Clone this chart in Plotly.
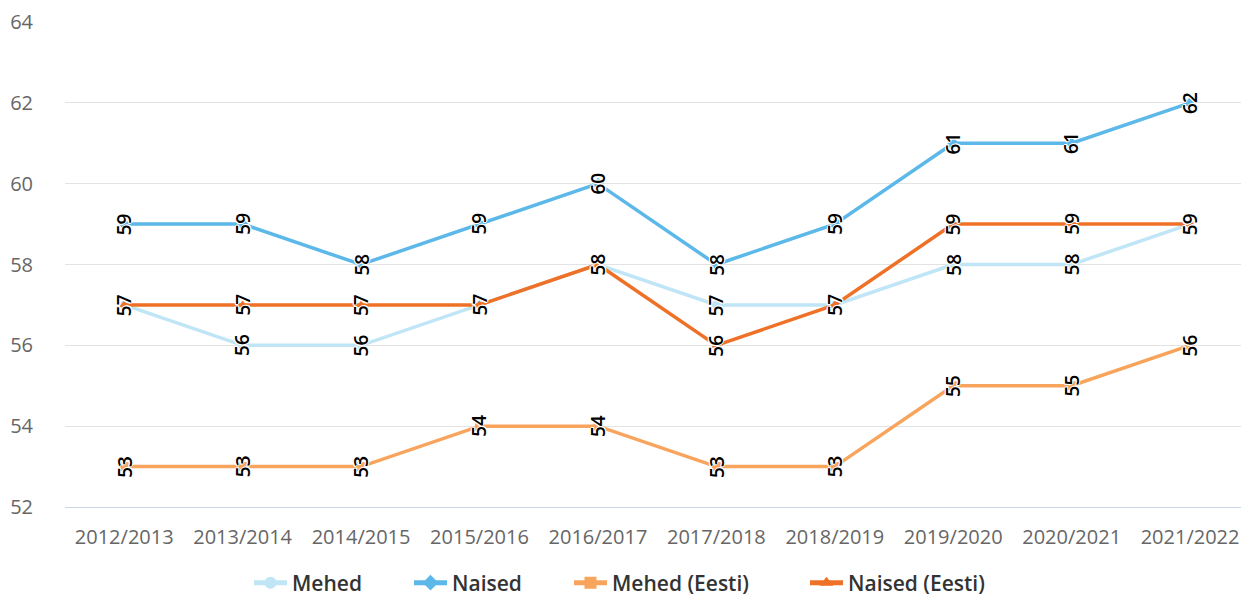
import plotly.graph_objects as go

categories = ["2012/2013", "2013/2014", "2014/2015", "2015/2016", "2016/2017",
              "2017/2018", "2018/2019", "2019/2020", "2020/2021", "2021/2022"]
mehed = [57, 56, 56, 57, 58, 57, 57, 58, 58, 59]
naised = [59, 59, 58, 59, 60, 58, 59, 61, 61, 62]
mehed_eesti = [53, 53, 53, 54, 54, 53, 53, 55, 55, 56]
naised_eesti = [57, 57, 57, 57, 58, 56, 57, 59, 59, 59]

series = [
    ("Mehed", mehed, "#bfe5f6", "circle"),
    ("Naised", naised, "#5cb8e8", "diamond"),
    ("Mehed (Eesti)", mehed_eesti, "#f8a45c", "square"),
    ("Naised (Eesti)", naised_eesti, "#ee7127", "triangle-up"),
]

L, R, T, B = 65, 0, 22, 89
W, H = 1241, 596
plot_w = W - L - R
legend_px = [249, 409, 569, 805]
legend_names = ["legend", "legend2", "legend3", "legend4"]

fig = go.Figure()
annotations = []
for (name, vals, color, sym), lg in zip(series, legend_names):
    fig.add_trace(go.Scatter(
        x=categories, y=vals, name=name, mode="lines+markers",
        line=dict(color=color, width=3.5),
        marker=dict(color=color, symbol=sym, size=9),
        legend=lg,
    ))
    for c, v in zip(categories, vals):
        annotations.append(dict(
            x=c, y=v, xref="x", yref="y", text=str(v), showarrow=False,
            textangle=-90, xanchor="center", yanchor="middle",
            font=dict(family="Open Sans", size=19, color="#000000", weight=600,
                      shadow="1px 0 0 #fff, -1px 0 0 #fff, 0 1px 0 #fff, 0 -1px 0 #fff, 1px 1px 0 #fff, -1px -1px 0 #fff"),
        ))

legend_style = dict(orientation="h", yanchor="middle", xanchor="left",
                    y=-(583 - (H - B)) / (H - T - B),
                    font=dict(family="Open Sans", size=21, color="#333333", weight=600),
                    bgcolor="rgba(0,0,0,0)", borderwidth=0,
                    itemsizing="constant", itemwidth=33)
legends = {}
for lg, px in zip(legend_names, legend_px):
    legends[lg] = dict(legend_style, x=(px - L) / plot_w)

fig.update_layout(
    width=W, height=H,
    margin=dict(l=L, r=R, t=T, b=B, autoexpand=False),
    paper_bgcolor="white", plot_bgcolor="white",
    font=dict(family="Open Sans", color="#666666"),
    annotations=annotations,
    showlegend=True,
    xaxis=dict(type="category", range=[-0.5, 9.43], showgrid=False,
               showline=True, linecolor="#ccd6eb", linewidth=1, automargin=False,
               ticks="", tickfont=dict(size=20, color="#666666"), ticklabelstandoff=12,
               fixedrange=True),
    yaxis=dict(range=[52, 64], dtick=2, tick0=52, showgrid=True, gridcolor="#e3e3e3",
               gridwidth=1, zeroline=False, showline=False, ticks="", automargin=False,
               tickfont=dict(size=20, color="#666666"), ticklabelstandoff=31),
    **legends,
)

fig.write_html("out.html", post_script="document.body.style.margin='0';",
               config={"displayModeBar": False})
